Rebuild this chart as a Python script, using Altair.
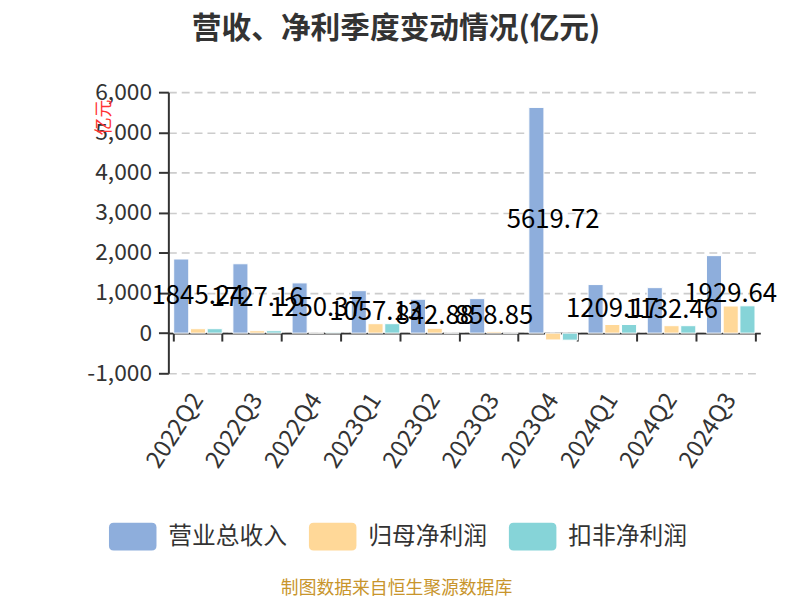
import altair as alt
import pandas as pd

quarters = ["2022Q2", "2022Q3", "2022Q4", "2023Q1", "2023Q2",
            "2023Q3", "2023Q4", "2024Q1", "2024Q2", "2024Q3"]
revenue = [1845.24, 1727.16, 1250.37, 1057.13, 842.88,
           858.85, 5619.72, 1209.17, 1132.46, 1929.64]
net_profit = [110, 60, 3, 235, 120, 35, -170, 215, 185, 675]
deducted_profit = [110, 60, 22, 235, 3, 3, -175, 215, 185, 680]
series_names = ["营业总收入", "归母净利润", "扣非净利润"]
series_colors = ["#8EAEDC", "#FFD898", "#86D4D8"]
y_ticks = [-1000, 0, 1000, 2000, 3000, 4000, 5000, 6000]

FONT = "Noto Sans CJK SC"

rows = []
for i, q in enumerate(quarters):
    for name, vals in zip(series_names, [revenue, net_profit, deducted_profit]):
        rows.append({"quarter": q, "series": name, "value": vals[i]})
df = pd.DataFrame(rows)
lab_df = pd.DataFrame({"quarter": quarters, "value": revenue})

W, H = 598, 284
zero_offset = -(H / 7.0)  # distance from bottom (-1000) to zero line

legend_shape = ("M-0.8,-0.583 H0.8 Q1,-0.583 1,-0.383 V0.383 Q1,0.583 0.8,0.583 "
                "H-0.8 Q-1,0.583 -1,0.383 V-0.383 Q-1,-0.583 -0.8,-0.583 Z")

x_enc = alt.X(
    "quarter:N", sort=quarters,
    scale=alt.Scale(paddingInner=0.18, paddingOuter=0.09),
    axis=alt.Axis(
        offset=zero_offset, tickBand="extent", labelAngle=-57,
        labelFontSize=24, labelColor="#333333", labelFont=FONT,
        labelPadding=55, tickSize=8, tickWidth=2, tickColor="#333333",
        domainColor="#333333", domainWidth=2, grid=False,
        title="制图数据来自恒生聚源数据库", titleFont=FONT, titleFontSize=18,
        titleFontWeight="normal", titleColor="#C8952C",
        titleX=230, titleY=258, titleAlign="center", titleBaseline="middle",
    ),
)
y_scale = alt.Scale(domain=[-1000, 6000], nice=False, zero=False)
y_axis = alt.Axis(
    values=y_ticks, format=",d", labelFontSize=23, labelColor="#333333",
    labelFont=FONT, labelPadding=7, tickSize=10, tickWidth=2, tickColor="#333333",
    labelExpr="replace(datum.label, '−', '-')",
    domainColor="#333333", domainWidth=2,
    gridColor="#CCCCCC", gridDash=[8, 5], gridWidth=1.6,
    title="亿元", titleColor="#FF3333", titleFont=FONT, titleFontSize=18,
    titleFontWeight="normal", titleX=-64, titleY=25, titleAngle=270,
    titleAlign="center", titleBaseline="middle",
)

bars = alt.Chart(df).mark_bar(stroke="white", strokeWidth=1).encode(
    x=x_enc,
    xOffset=alt.XOffset("series:N", sort=series_names,
                        scale=alt.Scale(paddingInner=0.1)),
    y=alt.Y("value:Q", scale=y_scale, axis=y_axis),
    color=alt.Color(
        "series:N", sort=series_names,
        scale=alt.Scale(domain=series_names, range=series_colors),
        legend=alt.Legend(
            title=None, orient="none", direction="horizontal",
            legendX=-60, legendY=425, padding=0,
            symbolType=legend_shape, symbolSize=2304, symbolStrokeWidth=0,
            symbolOpacity=1,
            labelFontSize=24, labelFont=FONT, labelColor="#333333",
            labelOffset=12, columnPadding=22,
        ),
    ),
)

labels = alt.Chart(lab_df).transform_calculate(
    half="datum.value / 2"
).mark_text(fontSize=26, font=FONT, color="#000000", align="center",
            baseline="middle").encode(
    x=alt.X("quarter:N", sort=quarters),
    y=alt.Y("half:Q", scale=y_scale),
    text=alt.Text("value:Q", format=".2f"),
)

chart = alt.layer(bars, labels).properties(
    width=W, height=H,
    background="white",
    title=alt.TitleParams(
        "营收、净利季度变动情况(亿元)", font=FONT, fontSize=30,
        fontWeight="bold", color="#333333", anchor="middle", dx=-69,
        offset=38,
    ),
    autosize=alt.AutoSizeParams(type="none"),
    padding={"left": 162, "top": 82, "right": 32, "bottom": 226},
).configure_view(stroke=None)

chart.save("out.html", embed_options={"renderer": "svg", "actions": False})
